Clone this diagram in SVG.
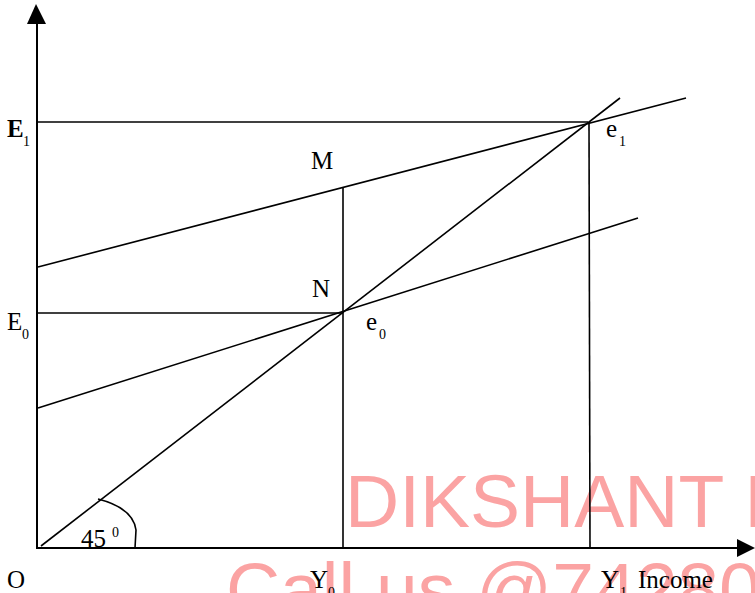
<svg xmlns="http://www.w3.org/2000/svg" width="755" height="593" viewBox="0 0 755 593">
<style>
.ln{stroke:#000;stroke-width:1.6;fill:none}
.ax{stroke:#000;stroke-width:2;fill:none}
.lb{font-family:"Liberation Serif","Times New Roman",serif;font-size:25px;fill:#000}
.sb{font-family:"Liberation Serif","Times New Roman",serif;font-size:14px;fill:#000}
.wm{font-family:"Liberation Sans",Arial,sans-serif;font-size:75px;fill:#fba3a3}
</style>
<rect width="755" height="593" fill="#fff"/>
<g id="watermark">
<text class="wm" x="345" y="527">DIKSHANT I</text>
<text class="wm" x="226" y="615">Call us @74280</text>
</g>
<g id="connectors">
<line class="ln" x1="38" y1="122" x2="588" y2="122"/>
<line class="ln" x1="38" y1="313" x2="343" y2="313"/>
<line class="ln" x1="343" y1="187" x2="343" y2="548"/>
<line class="ln" x1="589" y1="122" x2="590" y2="548"/>
<line class="ln" x1="41" y1="546" x2="620" y2="98"/>
<line class="ln" x1="38" y1="267" x2="686" y2="98"/>
<line class="ln" x1="38" y1="408" x2="638" y2="218"/>
<path class="ln" d="M98 499 Q133 508 136 530 L135 548"/>
</g>
<g id="axes">
<line class="ax" x1="37" y1="20" x2="37" y2="549"/>
<line class="ax" x1="36" y1="548" x2="740" y2="548"/>
<polygon points="36,4 27,24 46,24" fill="#000"/>
<polygon points="755,548 737,539 737,557" fill="#000"/>
</g>
<g id="label-E1"><text class="lb" x="7" y="137" font-weight="bold">E</text><text class="sb" x="23" y="146">1</text></g>
<g id="label-E0"><text class="lb" x="7" y="330">E</text><text class="sb" x="22" y="339">0</text></g>
<g id="label-M"><text class="lb" x="311" y="169">M</text></g>
<g id="label-N"><text class="lb" x="312" y="297">N</text></g>
<g id="label-e1"><text class="lb" x="606" y="137">e</text><text class="sb" x="619" y="146">1</text></g>
<g id="label-e0"><text class="lb" x="366" y="330">e</text><text class="sb" x="379" y="339">0</text></g>
<g id="label-O"><text class="lb" x="7" y="588" font-size="27">O</text></g>
<g id="label-Y0"><text class="lb" x="310" y="588">Y</text><text class="sb" x="328" y="597">0</text></g>
<g id="label-Y1"><text class="lb" x="601" y="588">Y</text><text class="sb" x="620" y="597">1</text></g>
<g id="label-income"><text class="lb" x="638" y="588">Income</text></g>
<g id="label-45"><text class="lb" x="81" y="547">45</text><text class="sb" x="112" y="537">0</text></g>
</svg>
